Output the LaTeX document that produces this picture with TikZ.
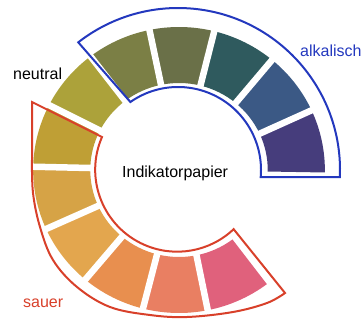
\documentclass[tikz,border=0pt]{standalone}
\usepackage{fontspec}
\setmainfont{Liberation Sans}
\definecolor{c0}{HTML}{463D7C}
\definecolor{c1}{HTML}{3B5985}
\definecolor{c2}{HTML}{2F5A5E}
\definecolor{c3}{HTML}{6A7048}
\definecolor{c4}{HTML}{7B7F45}
\definecolor{c5}{HTML}{ACA23A}
\definecolor{c6}{HTML}{BF9F35}
\definecolor{c7}{HTML}{D6A346}
\definecolor{c8}{HTML}{E3A64E}
\definecolor{c9}{HTML}{E88F4F}
\definecolor{c10}{HTML}{E97F62}
\definecolor{c11}{HTML}{E0617C}
\definecolor{alkblue}{HTML}{2338BE}
\definecolor{sauerred}{HTML}{D8402A}
\begin{document}
\begin{tikzpicture}[x=1pt,y=1pt,
  lbl/.style={inner sep=0, anchor=base west, font=\fontsize{16}{19}\selectfont},
  gapline/.style={white, line width=6.5},
  outline/.style={line width=2, line join=miter}]
\useasboundingbox (0,0) rectangle (363,324);
\coordinate (O) at (178,154);
% colour segments
\begin{scope}[shift={(179,154)}, xscale=1.02]
\foreach \c [count=\i from 0] in {c0,c1,c2,c3,c4,c5,c6,c7,c8,c9,c10,c11} {
  \pgfmathsetmacro\a{-1+25.67*\i}
  \pgfmathsetmacro\b{\a+25.67}
  \fill[fill=\c] (\a:87) -- (\a:143)
     arc[start angle=\a, end angle=\b, radius=143]
     -- (\b:87)
     arc[start angle=\b, end angle=\a, radius=87] -- cycle;
}
% white gaps
\foreach \k in {1,...,11} {
  \pgfmathsetmacro\a{-1+25.67*\k}
  \draw[gapline] (\a:80) -- (\a:150);
}
\end{scope}
% blue outline (alkalisch)
\draw[outline, alkblue] ([shift={(-2.5:162)}]O)
   arc[start angle=-2.5, end angle=128, radius=162]
   -- ([shift={(125:83)}]O)
   arc[start angle=125, end angle=-5, radius=83] -- cycle;
% red outline (sauer)
\draw[outline, sauerred] (32,222) -- (102,187)
   arc[start angle=156.5, end angle=313.5, radius=82]
   -- (285,31)
   -- plot[smooth, tension=0.6] coordinates {(285,31) (267,21) (233,12) (187,7) (150,9) (110,17) (77,37) (53,64) (40,97) (33,131) (32,164)}
   -- cycle;
% labels
\node[lbl] (neutral) at (13,244) {neutral};
\node[lbl] (ind) at (122,147) {Indikatorpapier};
\node[lbl, text=alkblue] (alk) at (300,267) {alkalisch};
\node[lbl, text=sauerred] (sauer) at (23,17) {sauer};
\end{tikzpicture}
\end{document}
